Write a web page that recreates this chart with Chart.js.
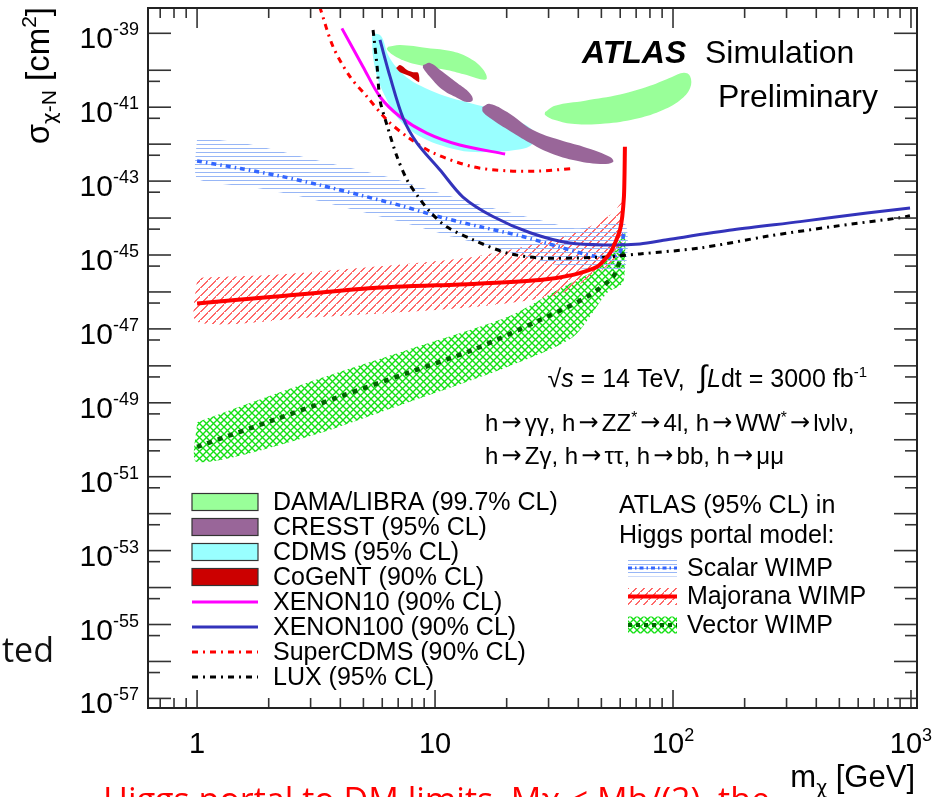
<!DOCTYPE html>
<html lang="en">
<head>
<meta charset="UTF-8">
<title>WIMP-nucleon cross section limits</title>
<style>
    html, body { margin: 0; padding: 0; background: #fff; }
    #wrap { width: 945px; height: 797px; position: relative; }
</style>
<script src="https://cdn.jsdelivr.net/npm/chart.js"></script>
</head>
<body>
<div id="wrap"><canvas id="myChart"></canvas></div>
<script>
// axis ranges (m_chi in GeV, sigma in cm^2)
const X_MIN = 0.622, X_MAX = 1060;
const Y_MIN = 5.5e-58, Y_MAX = 4.84e-39;

// tick labels
const xLabelValues = [1, 10, 100, 1000];
const xLabelBases = ['1', '10', '10', '10'];
const xLabelExps = ['', '', '2', '3'];
const yLabelExps = [-39, -41, -43, -45, -47, -49, -51, -53, -55, -57];

// direct detection limits (lines)
const xenon10M = [4.06, 4.98, 5.87, 7.13, 9.23, 12.7, 19.7];
const xenon10S = [1.36e-39, 1.25e-40, 1.92e-41, 5.53e-42, 2.0e-42, 9.5e-43, 5.4e-43];
const xenon100M = [5.87, 6.47, 7.34, 8.40, 10.5, 13.1, 17.5, 25.1, 36.9, 52.8, 72.6, 94.4, 179, 342, 653, 991];
const xenon100S = [6.6e-40, 6.7e-41, 5.1e-42, 1.07e-42, 2.0e-43, 3.7e-44, 1.1e-44, 4.0e-45, 2.1e-45, 1.87e-45, 2.0e-45, 2.6e-45, 4.8e-45, 8.0e-45, 1.37e-44, 1.86e-44];
const superCdmsM = [3.10, 3.29, 3.73, 4.39, 5.18, 6.28, 7.63, 9.81, 14.4, 20.1, 27.6, 38.0];
const superCdmsS = [1.5e-38, 4.8e-39, 4.3e-40, 6.7e-41, 1.92e-41, 4.5e-42, 1.6e-42, 5.8e-43, 2.45e-43, 1.9e-43, 1.87e-43, 2.2e-43];
const luxM = [5.49, 5.71, 5.87, 6.28, 6.92, 7.63, 8.40, 9.53, 11.2, 14.4, 20.1, 27.6, 38.0, 52.8, 72.6, 130, 248, 470, 899, 990];
const luxS = [1.23e-39, 1.25e-40, 1.57e-41, 3.3e-42, 4.6e-43, 1.07e-43, 4.2e-44, 1.47e-44, 5.8e-45, 2.6e-45, 1.13e-45, 8.3e-46, 8.3e-46, 8.9e-46, 1.07e-45, 1.55e-45, 3.2e-45, 5.9e-45, 1.02e-44, 1.15e-44];

// signal regions (closed contours)
const damaAM = [6.35, 7.13, 9.25, 11.9, 14.0, 15.8, 16.5, 15.5, 13.6, 11.2, 9.25, 7.63, 6.66, 6.28];
const damaAS = [4.3e-40, 4.8e-40, 4.0e-40, 3.2e-40, 2.1e-40, 1.12e-40, 6.0e-41, 5.7e-41, 7.4e-41, 1.02e-40, 1.25e-40, 1.7e-40, 2.6e-40, 3.7e-40];
const damaBM = [29.0, 31.9, 42.7, 59.9, 80.0, 99.0, 111, 118, 118, 107, 88.2, 69.2, 51.8, 38.7, 31.9, 29.0];
const damaBS = [7.4e-42, 1.1e-41, 1.5e-41, 2.2e-41, 3.8e-41, 6.6e-41, 8.5e-41, 6.9e-41, 3.3e-41, 1.55e-41, 7.8e-42, 4.8e-42, 3.6e-42, 3.5e-42, 4.5e-42, 6.2e-42];
const cresstAM = [8.91, 9.53, 10.5, 12.4, 14.0, 14.4, 13.6, 12.4, 10.8, 9.53, 8.91];
const cresstAS = [1.38e-40, 1.58e-40, 1.02e-40, 4.5e-41, 2.4e-41, 1.55e-41, 1.38e-41, 1.78e-41, 2.9e-41, 6.6e-41, 1.15e-40];
const cresstBM = [15.8, 17.0, 20.1, 25.8, 33.5, 43.5, 54.4, 56.0, 49.4, 38.0, 29.6, 25.1, 21.3, 17.5, 15.9];
const cresstBS = [1.0e-41, 1.23e-41, 7.4e-42, 2.4e-42, 1.29e-42, 7.9e-43, 4.5e-43, 3.3e-43, 2.9e-43, 3.7e-43, 6.2e-43, 1.07e-42, 2.0e-42, 4.5e-42, 7.4e-42];
const cdmsM = [5.44, 5.93, 6.35, 6.92, 7.85, 9.08, 11.0, 14.0, 17.9, 21.7, 25.1, 26.6, 25.1, 21.7, 17.9, 14.0, 11.2, 9.25, 7.85, 6.92, 6.28, 5.76, 5.49, 5.44];
const cdmsS = [1.02e-39, 8.5e-40, 2.6e-40, 1.15e-40, 5.5e-41, 3.3e-41, 2.0e-41, 1.29e-41, 8.3e-42, 4.5e-42, 2.75e-42, 1.55e-42, 8.9e-43, 6.9e-43, 6.2e-43, 6.2e-43, 8.3e-43, 1.29e-42, 2.4e-42, 5.4e-42, 1.55e-41, 5.5e-41, 2.3e-40, 6.6e-40];
const cogentM = [6.86, 7.13, 7.63, 8.09, 8.49, 8.57, 8.24, 7.85, 7.13, 6.86];
const cogentS = [1.15e-40, 1.38e-40, 1.02e-40, 8.9e-41, 8.5e-41, 4.8e-41, 5.5e-41, 6.9e-41, 8.9e-41, 1.15e-40];

// ATLAS Higgs portal limits (central lines)
const scalarM = [1.0, 1.52, 2.23, 3.29, 4.84, 7.13, 10.5, 15.5, 22.8, 33.5, 46.1, 55.4, 59.9, 62.2];
const scalarS = [3.5e-43, 2.2e-43, 1.37e-43, 7.8e-44, 4.2e-44, 2.2e-44, 1.07e-44, 5.8e-45, 3.3e-45, 1.64e-45, 9.4e-46, 8.9e-46, 1.2e-45, 4.2e-45];
const majoranaM = [1.0, 2.09, 5.49, 14.4, 27.6, 38.0, 48.0, 54.4, 59.9, 62.2, 62.8];
const majoranaS = [4.9e-47, 7.4e-47, 1.28e-46, 1.65e-46, 2.1e-46, 2.9e-46, 4.8e-46, 1.13e-45, 4.8e-45, 3.8e-44, 8.5e-43];
const vectorM = [1.0, 2.09, 3.99, 7.60, 14.4, 27.6, 43.5, 56.0, 59.9, 62.2];
const vectorS = [6.4e-51, 3.4e-50, 1.48e-49, 6.3e-49, 2.7e-48, 1.74e-47, 7.4e-47, 2.6e-46, 7.2e-46, 1.55e-45];

// band edges
const scalarUpM = [1.0, 1.72, 3.16, 6.35, 10.2, 15.9, 26.8, 38.7, 62.8];
const scalarUpS = [1.55e-42, 9.5e-43, 3.7e-43, 1.29e-43, 5.0e-44, 2.2e-44, 9.3e-45, 5.3e-45, 6.9e-45];
const scalarLoM = [1.0, 1.70, 2.63, 3.87, 7.48, 11.9, 22.8, 32.6, 49.4, 62.8];
const scalarLoS = [1.2e-43, 6.9e-44, 4.0e-44, 2.2e-44, 7.4e-45, 3.1e-45, 1.0e-45, 5.4e-46, 3.9e-46, 4.5e-46];
const majoranaUpM = [1.0, 2.09, 5.49, 14.4, 27.6, 41.9, 56.0, 61.0];
const majoranaUpS = [2.4e-46, 2.9e-46, 4.8e-46, 8.9e-46, 2.1e-45, 4.8e-45, 1.37e-44, 2.6e-44];
const majoranaLoM = [1.0, 2.90, 14.4, 32.6, 44.8, 55.4, 61.0];
const majoranaLoS = [1.55e-47, 2.0e-47, 3.9e-47, 8.3e-47, 2.4e-46, 6.5e-46, 1.87e-45];
const vectorUpM = [1.0, 2.90, 7.63, 20.1, 32.6, 49.4, 58.2, 62.8];
const vectorUpS = [3.0e-50, 3.5e-49, 2.7e-48, 2.1e-47, 1.12e-46, 4.8e-46, 1.87e-45, 4.2e-45];
const vectorLoM = [1.0, 2.90, 7.63, 20.1, 38.0, 52.8, 61.5, 62.8];
const vectorLoS = [2.5e-51, 1.18e-50, 1.0e-49, 9.3e-49, 6.0e-48, 9.3e-47, 1.74e-46, 7.2e-46];

const leftLegend = ['DAMA/LIBRA (99.7% CL)', 'CRESST (95% CL)', 'CDMS (95% CL)', 'CoGeNT (90% CL)',
                    'XENON10 (90% CL)', 'XENON100 (90% CL)', 'SuperCDMS (90% CL)', 'LUX (95% CL)'];
const rightLegend = ['Scalar WIMP', 'Majorana WIMP', 'Vector WIMP'];

const C = {
    dama: '#99ff99', cresst: '#996699', cdms: '#99ffff', cogent: '#cc0000',
    xenon10: '#ff00ff', xenon100: '#3333bb', superCdms: '#ff0000', lux: '#000000',
    scalar: '#3366ff', majorana: '#ff0000', vector: '#006600'
};
const DASHDOT = [6, 5, 2, 5];

const canvas = document.getElementById('myChart');
const cctx = canvas.getContext('2d');

// hatch patterns for the ATLAS bands
function makePattern(w, h, paint) {
    const c = document.createElement('canvas');
    c.width = w; c.height = h;
    paint(c.getContext('2d'), w, h);
    return cctx.createPattern(c, 'repeat');
}
const scalarHatch = makePattern(8, 4, g => { g.fillStyle = '#97b6f6'; g.fillRect(0, 0, 8, 1); });
const majoranaHatch = makePattern(8, 8, (g, w, h) => {
    g.fillStyle = 'rgb(255,105,105)';
    for (let i = 0; i < w; i++) g.fillRect(i, h - 1 - i, 2, 1);
});
const vectorHatch = makePattern(7, 7, g => {
    g.strokeStyle = '#14e014'; g.lineWidth = 1.4;
    g.beginPath();
    g.moveTo(-1, -1); g.lineTo(8, 8);
    g.moveTo(-1, 8); g.lineTo(8, -1);
    g.stroke();
});

function pts(ms, ss) { return ms.map((m, i) => ({x: m, y: ss[i]})); }
function ring(ms, ss) { const p = pts(ms, ss); p.push({...p[0]}); return p; }
function band(um, us, lm, ls) {
    const p = pts(um, us).concat(pts(lm, ls).reverse());
    p.push({...p[0]});
    return p;
}
function area(label, data, fillStyle, order, tension) {
    return {label, data, order, showLine: true, fill: 'shape', backgroundColor: fillStyle,
            borderColor: 'rgba(0,0,0,0)', borderWidth: 0, pointRadius: 0, tension: tension};
}
function curve(label, data, color, width, dash, order, tension) {
    return {label, data, order, showLine: true, fill: false, borderColor: color, borderWidth: width,
            borderDash: dash, pointRadius: 0, tension: tension};
}

// lower order = drawn on top
const datasets = [
    area('Vector band', band(vectorUpM, vectorUpS, vectorLoM, vectorLoS), vectorHatch, 16, 0.25),
    area('Majorana band', band(majoranaUpM, majoranaUpS, majoranaLoM, majoranaLoS), majoranaHatch, 15, 0.25),
    area('Scalar band', band(scalarUpM, scalarUpS, scalarLoM, scalarLoS), scalarHatch, 14, 0.2),
    area('CDMS', ring(cdmsM, cdmsS), C.cdms, 13, 0.35),
    area('DAMA/LIBRA', ring(damaAM, damaAS), C.dama, 12, 0.4),
    area('DAMA/LIBRA 2', ring(damaBM, damaBS), C.dama, 11, 0.4),
    area('CRESST', ring(cresstAM, cresstAS), C.cresst, 10, 0.4),
    area('CRESST 2', ring(cresstBM, cresstBS), C.cresst, 9, 0.4),
    area('CoGeNT', ring(cogentM, cogentS), C.cogent, 8, 0.3),
    curve('Vector WIMP', pts(vectorM, vectorS), C.vector, 4.5, [5, 6], 7, 0.3),
    curve('Scalar WIMP', pts(scalarM, scalarS), C.scalar, 3.5, [5, 4, 1.5, 4], 6, 0.3),
    curve('XENON10', pts(xenon10M, xenon10S), C.xenon10, 3, [], 5, 0.3),
    curve('SuperCDMS', pts(superCdmsM, superCdmsS), C.superCdms, 3, DASHDOT, 4, 0.3),
    curve('LUX', pts(luxM, luxS), C.lux, 3, DASHDOT, 3, 0.3),
    curve('XENON100', pts(xenon100M, xenon100S), C.xenon100, 3, [], 2, 0.3),
    curve('Majorana WIMP', pts(majoranaM, majoranaS), C.majorana, 4, [], 1, 0.2)
];

const FONT = '"Liberation Sans", Arial, Helvetica, sans-serif';
const GREEK = '"DejaVu Sans", sans-serif';
function f(size, style) { return (style ? style + ' ' : '') + size + 'px ' + FONT; }
function g(size) { return size + 'px ' + GREEK; }

// draw a run of text pieces: [text, font, dy, advance]
function drawRuns(ctx, x, y, parts, align) {
    const adv = p => { ctx.font = p[1]; return p[3] || ctx.measureText(p[0]).width; };
    let w = 0;
    parts.forEach(p => { w += adv(p); });
    let cx = align === 'right' ? x - w : (align === 'center' ? x - w / 2 : x);
    ctx.textAlign = 'left';
    parts.forEach(p => {
        const a = adv(p);
        const m = ctx.measureText(p[0]).width;
        ctx.fillText(p[0], cx + (a - m) / 2, y + (p[2] || 0));
        cx += a;
    });
    return w;
}
// decay text: long arrows and superscript stars
function decayParts(text, size) {
    const out = [];
    text.split(/(→|\*)/).forEach(t => {
        if (!t) return;
        if (t === '→') out.push(['→', g(size), -1, size * 1.1]);
        else if (t === '*') out.push(['*', f(size * 0.65), -8]);
        else out.push([t, f(size)]);
    });
    return out;
}

const decorations = {
    id: 'decorations',
    afterDraw(chart) {
        const {ctx, chartArea: a} = chart;
        const xs = chart.scales.x, ys = chart.scales.y;
        const seg = (x1, y1, x2, y2) => { ctx.beginPath(); ctx.moveTo(x1, y1); ctx.lineTo(x2, y2); ctx.stroke(); };
        ctx.save();

        // ticks, ROOT style (inside the frame, all four sides)
        ctx.strokeStyle = '#333';
        ctx.lineWidth = 1.6;
        for (let d = -1; d <= 3; d++) {
            for (let k = 1; k <= 9; k++) {
                const v = k * Math.pow(10, d);
                if (v < X_MIN || v > X_MAX) continue;
                const px = xs.getPixelForValue(v);
                seg(px, a.bottom, px, a.bottom - (k === 1 ? 18 : 10));
                seg(px, a.top, px, a.top + (k === 1 ? 20 : 10));
            }
        }
        for (let e = -57; e <= -39; e++) {
            const py = ys.getPixelForValue(Math.pow(10, e));
            seg(a.left, py, a.left + 23, py);
            seg(a.right, py, a.right - 23, py);
            if (e < -39) {
                const ps = ys.getPixelForValue(Math.pow(10, e - 0.3));
                if (ps < a.bottom) {
                    seg(a.left, ps, a.left + 12, ps);
                    seg(a.right, ps, a.right - 12, ps);
                }
            }
        }
        ctx.lineWidth = 2;
        ctx.strokeStyle = '#222';
        ctx.strokeRect(a.left, a.top, a.right - a.left, a.bottom - a.top);

        // tick labels
        ctx.fillStyle = '#000';
        ctx.textBaseline = 'alphabetic';
        yLabelExps.forEach(e => {
            const py = ys.getPixelForValue(Math.pow(10, e));
            drawRuns(ctx, 139, py + 15, [['10', f(30)], [String(e), f(18), -13]], 'right');
        });
        xLabelValues.forEach((v, i) => {
            const px = xs.getPixelForValue(v);
            const parts = [[xLabelBases[i], f(29)]];
            if (xLabelExps[i]) parts.push([xLabelExps[i], f(18), -12]);
            drawRuns(ctx, px, 753, parts, 'center');
        });

        // axis titles
        drawRuns(ctx, 915, 787, [['m', f(31)], ['χ', g(19), 7], [' [GeV]', f(31)]], 'right');
        ctx.save();
        ctx.translate(49, 7);
        ctx.rotate(-Math.PI / 2);
        drawRuns(ctx, 0, 0, [['σ', f(33)], ['χ', g(20), 7], ['-N', f(21), 7], [' [cm', f(33)], ['2', f(21), -13], [']', f(33)]], 'right');
        ctx.restore();

        // ATLAS label
        ctx.font = f(32, 'italic bold');
        ctx.fillText('ATLAS', 582, 63);
        ctx.font = f(32);
        ctx.fillText('Simulation', 705, 63);
        ctx.textAlign = 'right';
        ctx.fillText('Preliminary', 878, 107);
        ctx.textAlign = 'left';

        // conditions text
        drawRuns(ctx, 867, 387, [['√', f(25)], ['s', f(25, 'italic')], [' = 14 TeV,  ', f(25)], ['∫', f(31)],
                                 ['L', f(25, 'italic')], ['dt = 3000 fb', f(25)], ['-1', f(15), -10]], 'right');
        drawRuns(ctx, 485, 431, decayParts('h→γγ, h→ZZ*→4l, h→WW*→lνlν,', 24), 'left');
        drawRuns(ctx, 485, 464, decayParts('h→Zγ, h→ττ, h→bb, h→μμ', 24), 'left');

        // left legend
        ctx.textBaseline = 'middle';
        const fills = [C.dama, C.cresst, C.cdms, C.cogent];
        const lines = [[C.xenon10, []], [C.xenon100, []], [C.superCdms, DASHDOT], [C.lux, DASHDOT]];
        leftLegend.forEach((label, i) => {
            const cy = 502 + 25 * i;
            if (i < 4) {
                ctx.fillStyle = fills[i];
                ctx.fillRect(192, cy - 8.5, 66, 17);
                ctx.strokeStyle = '#333'; ctx.lineWidth = 1.2; ctx.setLineDash([]);
                ctx.strokeRect(192, cy - 8.5, 66, 17);
            } else {
                const [col, dash] = lines[i - 4];
                ctx.strokeStyle = col; ctx.lineWidth = 3; ctx.setLineDash(dash);
                seg(192, cy, 258, cy);
                ctx.setLineDash([]);
            }
            ctx.fillStyle = '#000';
            ctx.font = f(25);
            ctx.fillText(label, 273, cy + 1);
        });

        // right legend
        ctx.textBaseline = 'alphabetic';
        ctx.font = f(25);
        ctx.fillText('ATLAS (95% CL) in', 619, 513);
        ctx.fillText('Higgs portal model:', 619, 543);
        ctx.textBaseline = 'middle';
        const hatches = [scalarHatch, majoranaHatch, vectorHatch];
        const mids = [[C.scalar, 3, [4, 3, 1.5, 3]], [C.majorana, 4, []], [C.vector, 4, [4, 4]]];
        rightLegend.forEach((label, i) => {
            const cy = 568 + 28.5 * i;
            ctx.fillStyle = hatches[i];
            ctx.fillRect(628, cy - 8.5, 49, 17);
            const [col, lw, dash] = mids[i];
            ctx.strokeStyle = col; ctx.lineWidth = lw; ctx.setLineDash(dash);
            seg(628, cy, 677, cy);
            ctx.setLineDash([]);
            ctx.fillStyle = '#000';
            ctx.font = f(25);
            ctx.fillText(label, 687, cy + 1);
        });

        // slide remnants around the figure
        ctx.textBaseline = 'alphabetic';
        ctx.font = '34px "Open Sans", sans-serif';
        ctx.fillStyle = '#111';
        ctx.textAlign = 'right';
        ctx.fillText('presented', 54, 662);
        ctx.textAlign = 'left';
        ctx.fillStyle = '#ff0000';
        ctx.fillText('Higgs portal to DM limits, Mχ < Mh/(2), the', 103, 812);

        ctx.restore();
    }
};

new Chart(cctx, {
    type: 'scatter',
    data: {datasets: datasets},
    options: {
        responsive: true,
        maintainAspectRatio: false,
        animation: false,
        events: [],
        layout: {padding: {left: 148, top: 8, right: 28, bottom: 89}},
        elements: {line: {capBezierPoints: false}},
        scales: {
            x: {type: 'logarithmic', min: X_MIN, max: X_MAX, bounds: 'data', display: false},
            y: {type: 'logarithmic', min: Y_MIN, max: Y_MAX, bounds: 'data', display: false}
        },
        plugins: {legend: {display: false}, tooltip: {enabled: false}}
    },
    plugins: [decorations]
});
</script>
</body>
</html>
